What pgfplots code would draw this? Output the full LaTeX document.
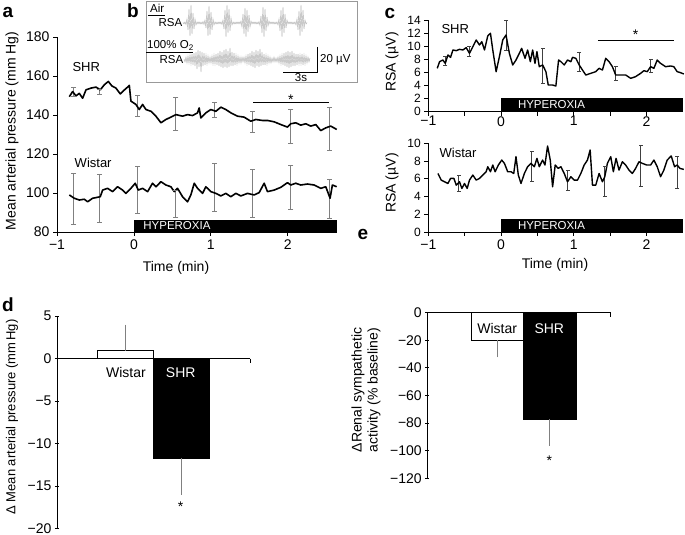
\documentclass[border=0pt]{standalone}
\usepackage{fontspec}
\setmainfont{Liberation Sans}
\usepackage{pgfplots}
\usepackage{pgfplotstable}
\pgfplotsset{compat=1.18}

\newcommand{\fs}{\fontsize{14}{16}\selectfont}
\newcommand{\fss}{\fontsize{12}{14}\selectfont}
\newcommand{\fsi}{\fontsize{11.5}{13}\selectfont}
\newcommand{\fhy}{\fontsize{11.5}{13}\selectfont}
\newcommand{\fpl}{\fontsize{19}{21}\selectfont\bfseries}

\pgfplotsset{
  panel/.style={scale only axis, anchor=south west, clip=false,
    axis lines=left, axis line style={-, line width=0.8pt},
    every inner x axis line/.append style={-},
    every outer x axis line/.append style={-},
    every outer y axis line/.append style={-},
    tick style={black, line width=0.8pt}, tick align=outside,
    major tick length=4pt, minor tick length=4pt,
    ticklabel style={font=\fs},
    /pgf/number format/assume math mode=true},
  % error bars drawn as low-high segments with caps
  ebar/.style 2 args={#1, line width=0.7pt, mark=-, mark size=#2,
    mark options={solid, line width=0.7pt, #1}, unbounded coords=jump},
}

% panel a: mean arterial pressure (mm Hg) vs time (min)
\pgfplotstableread{
x y
-0.840 149.4
-0.797 152.0
-0.753 149.8
-0.710 151.1
-0.667 148.6
-0.623 152.9
-0.558 153.8
-0.493 154.3
-0.437 152.9
-0.385 155.5
-0.333 157.2
-0.286 154.9
-0.234 153.8
-0.177 150.8
-0.134 152.5
-0.082 154.3
-0.060 155.2
-0.039 147.1
0.026 145.4
0.069 142.8
0.113 145.4
0.156 142.8
0.221 141.9
0.286 139.4
0.351 136.0
0.416 137.7
0.481 138.9
0.546 140.2
0.632 139.4
0.697 140.2
0.762 139.7
0.827 141.1
0.848 143.6
0.870 138.5
0.935 141.1
1.000 142.8
1.065 141.9
1.130 144.0
1.195 142.8
1.260 141.1
1.346 139.4
1.433 138.9
1.519 136.8
1.584 137.7
1.671 137.2
1.736 137.2
1.823 136.5
1.909 135.1
1.996 133.8
2.039 135.5
2.104 136.0
2.169 134.8
2.234 135.5
2.299 134.3
2.364 135.1
2.429 132.0
2.494 133.4
2.558 134.3
2.636 132.6
}\shra

\pgfplotstableread{
x y
-0.840 99.0
-0.775 97.3
-0.710 96.4
-0.645 96.8
-0.602 95.5
-0.537 97.3
-0.472 97.8
-0.437 98.1
-0.407 101.5
-0.342 102.4
-0.277 100.7
-0.212 103.2
-0.147 101.5
-0.104 99.8
-0.039 102.4
0.017 105.0
0.056 101.5
0.113 102.4
0.178 100.7
0.242 105.0
0.286 103.2
0.351 105.8
0.416 104.1
0.481 103.2
0.524 100.7
0.567 102.4
0.632 98.1
0.697 95.5
0.740 99.0
0.784 105.0
0.827 102.4
0.892 99.8
0.935 103.2
1.000 100.7
1.065 99.8
1.130 98.5
1.195 99.8
1.260 98.1
1.325 99.8
1.390 98.5
1.476 99.8
1.563 99.0
1.628 100.2
1.693 105.0
1.736 100.7
1.823 101.5
1.909 102.9
1.996 105.3
2.039 104.1
2.104 105.0
2.169 104.1
2.255 104.6
2.342 104.1
2.429 102.4
2.494 103.2
2.550 97.3
2.580 104.1
2.636 103.2
}\wisa

% panel c: RSA (uV) vs time (min)
\pgfplotstableread{
x y
-0.877 6.62
-0.845 7.64
-0.799 7.89
-0.767 7.38
-0.730 8.66
-0.694 8.30
-0.662 9.42
-0.616 9.32
-0.571 9.52
-0.525 9.42
-0.479 9.78
-0.434 8.91
-0.388 9.93
-0.342 10.95
-0.297 10.18
-0.265 10.69
-0.228 9.42
-0.183 11.56
-0.146 11.97
-0.114 9.42
-0.068 6.11
-0.023 8.40
0.023 10.95
0.068 11.71
0.114 8.91
0.160 7.13
0.205 7.89
0.251 8.91
0.283 9.67
0.329 8.15
0.365 9.42
0.402 7.64
0.434 9.42
0.466 7.38
0.493 9.16
0.525 6.87
0.571 7.13
0.616 6.11
0.648 4.07
0.708 4.07
0.753 3.92
0.790 7.89
0.822 7.64
0.868 7.13
0.913 7.89
0.959 7.64
0.982 8.30
1.027 8.15
1.073 7.13
1.119 6.36
1.164 5.60
1.233 5.86
1.301 6.11
1.347 6.62
1.393 6.36
1.438 8.15
1.484 7.64
1.530 6.87
1.575 5.60
1.644 5.60
1.712 5.60
1.781 5.09
1.849 5.35
1.918 5.86
1.963 6.26
2.009 6.11
2.055 6.87
2.100 6.62
2.146 7.89
2.192 7.38
2.260 6.87
2.329 6.98
2.374 6.87
2.420 6.11
2.466 5.96
2.511 5.75
}\shrc

\pgfplotstableread{
x y
-0.868 6.60
-0.822 5.85
-0.777 5.66
-0.731 5.47
-0.694 6.04
-0.648 6.04
-0.616 5.28
-0.571 5.66
-0.539 4.91
-0.502 5.47
-0.466 4.91
-0.434 5.85
-0.388 6.42
-0.342 5.85
-0.297 6.04
-0.251 6.42
-0.205 6.79
-0.183 7.36
-0.146 6.79
-0.114 7.55
-0.082 6.79
-0.037 7.55
0.009 8.11
0.046 7.74
0.091 6.79
0.137 6.79
0.174 6.60
0.205 8.49
0.237 6.42
0.274 5.47
0.320 6.60
0.365 7.36
0.411 7.74
0.457 7.36
0.493 8.30
0.525 7.36
0.571 8.11
0.603 7.55
0.639 9.70
0.676 8.11
0.708 5.09
0.744 7.55
0.785 7.17
0.822 7.36
0.868 6.60
0.913 5.66
0.959 6.23
1.005 5.85
1.050 5.85
1.096 6.60
1.142 7.55
1.187 8.11
1.224 9.25
1.256 5.28
1.301 5.28
1.347 6.60
1.393 5.66
1.425 6.23
1.461 7.74
1.507 8.49
1.543 6.79
1.580 8.30
1.621 6.98
1.667 7.92
1.712 7.55
1.758 6.98
1.804 6.60
1.849 7.17
1.895 7.92
1.941 7.74
2.000 7.55
2.055 7.55
2.100 8.11
2.146 7.36
2.192 6.23
2.237 6.98
2.283 8.11
2.338 8.57
2.384 7.36
2.420 7.55
2.457 7.17
2.511 7.06
}\wisc

% panel b: example RSA traces (x in px, deflection from baseline)
\pgfplotstableread{
x o
183 0.5
184 -0.8
185 1
186 -1.5
187 4
188 -7
189 14
190 -13
191 18
192 -11
193 10
194 -6
195 4
196 -2
197 1
198 -1
199 1
200 -1
201 0.8
202 -1
203 1.5
204 -1.5
205 3
206 -5
207 12
208 -13
209 17
210 -12
211 11
212 -7
213 4
214 -2
215 1
216 -1
217 0.8
218 -1
219 1
220 -0.8
221 1
222 -1.5
223 3
224 -6
225 13
226 -14
227 18
228 -10
229 14
230 -8
231 5
232 -2
233 1
234 -1
235 0.8
236 -1
237 1
238 -0.8
239 1
240 -1
241 2
242 -4
243 9
244 -11
245 15
246 -14
247 13
248 -9
249 8
250 -4
251 2
252 -1
253 1
254 -0.8
255 1
256 -1
257 0.8
258 -1
259 1.5
260 -2.5
261 7
262 -10
263 16
264 -14
265 14
266 -8
267 6
268 -3
269 2
270 -1
271 1
272 -0.8
273 1
274 -1
275 0.8
276 -1
277 1
278 -2
279 4
280 -8
281 13
282 -14
283 16
284 -10
285 9
286 -5
287 3
288 -1
289 1
290 -0.8
291 1
292 -1
293 0.8
294 -1
295 1
296 -2
297 4
298 -7
299 12
300 -13
301 18
302 -9
303 13
304 -6
305 3
306 -1
307 0.5
}\air

\pgfplotstableread{
x o
184 1
185 -2
186 3
187 -3
188 4
189 -3
190 5
191 -4
192 6
193 -5
194 7
195 -6
196 8
197 -9
198 10
199 -7
200 9
201 -12
202 8
203 -6
204 7
205 -5
206 5
207 -4
208 4
209 -3
210 3
211 -3
212 4
213 -4
214 5
215 -4
216 6
217 -5
218 7
219 -6
220 9
221 -7
222 8
223 -8
224 10
225 -7
226 11
227 -8
228 9
229 -7
230 12
231 -6
232 8
233 -6
234 7
235 -5
236 5
237 -4
238 4
239 -3
240 3
241 -3
242 3
243 -2
244 3
245 -3
246 4
247 -4
248 6
249 -5
250 7
251 -6
252 9
253 -7
254 8
255 -8
256 10
257 -6
258 9
259 -7
260 11
261 -6
262 8
263 -5
264 6
265 -5
266 5
267 -4
268 4
269 -3
270 3
271 -3
272 2
273 -2
274 3
275 -2
276 2
277 -2
278 3
279 -3
280 4
281 -4
282 5
283 -5
284 7
285 -6
286 8
287 -7
288 9
289 -8
290 8
291 -7
292 9
293 -6
294 7
295 -6
296 6
297 -5
298 6
299 -4
300 5
301 -4
302 6
303 -5
304 5
305 -4
306 4
307 -3
308 3
309 -2
310 2
}\oxy

\begin{document}
\begin{tikzpicture}[x=1pt,y=1pt]
\useasboundingbox (0pt,0pt) rectangle (685pt,535pt);

% ---------------- panel a
\begin{axis}[panel, at={(57pt,303pt)}, width=280pt, height=195pt,
  xmin=-1, xmax=2.64, ymin=80, ymax=180,
  xtick={-1,0,1,2}, xticklabels={−1,0,1,2}, ytick={80,100,...,180}]
\fill (axis cs:0,80) rectangle (axis cs:2.64,86.2);
\node[white, anchor=west, font=\fhy, inner sep=0pt] at (axis cs:0.12,83.1) {HYPEROXIA};
\addplot[ebar={gray}{2.5pt}] coordinates {
  (-0.784,149.4) (-0.784,154.2) (-0.784,nan)
  (-0.450,150.6) (-0.450,153.2) (-0.450,nan)
  (0.048,139.1) (0.048,149.9) (0.048,nan)
  (0.545,132.0) (0.545,149.0) (0.545,nan)
  (1.043,138.9) (1.043,146.5) (1.043,nan)
  (1.541,131.3) (1.541,141.9) (1.541,nan)
  (2.039,125.6) (2.039,143.0) (2.039,nan)
  (2.537,121.9) (2.537,143.7)
};
\addplot[ebar={gray}{2.5pt}] coordinates {
  (-0.784,84.1) (-0.784,110.1) (-0.784,nan)
  (-0.450,85.0) (-0.450,109.6) (-0.450,nan)
  (0.048,89.6) (0.048,113.6) (0.048,nan)
  (0.545,87.5) (0.545,101.5) (0.545,nan)
  (1.043,90.4) (1.043,115.2) (1.043,nan)
  (1.541,87.5) (1.541,112.1) (1.541,nan)
  (2.039,91.6) (2.039,114.4) (2.039,nan)
  (2.537,87.0) (2.537,106.8)
};
\addplot[black, line width=1.6pt, line join=round] table {\shra};
\addplot[black, line width=1.6pt, line join=round] table {\wisa};
\addplot[black, line width=1pt] coordinates {(1.55,146.3) (2.54,146.3)};
\node[font=\fs, yshift=-3pt] at (axis cs:2.04,149.4) {*};
\node[font=\fontsize{13}{15}\selectfont] at (axis cs:-0.62,164.5) {SHR};
\node[font=\fontsize{13}{15}\selectfont] at (axis cs:-0.53,115.4) {Wistar};
\end{axis}
\node[rotate=90, font=\fs] at (12pt,404pt) {Mean arterial pressure (mm Hg)};
\node[font=\fs] at (176pt,267pt) {Time (min)};
\node[font=\fpl] at (8pt,523pt) {a};

% ---------------- panel b
\begin{axis}[scale only axis, anchor=south west, at={(146pt,453pt)}, width=211pt, height=82pt,
  xmin=146, xmax=357, ymin=-82, ymax=0, hide axis, clip=false]
\draw[gray!80, line width=0.8pt] (axis cs:146,-1) rectangle (axis cs:357,-82);
\addplot[gray!65, line width=0.45pt] table[x index=0, y expr=\thisrowno{1}-23] {\air};
\addplot[gray!65, line width=0.45pt] table[x index=0, y expr=\thisrowno{1}-60] {\oxy};
\node[font=\fsi, anchor=base west, inner sep=0pt] at (axis cs:150,-13) {Air};
\draw[line width=0.7pt] (axis cs:148,-15.5) -- (axis cs:165,-15.5);
\node[font=\fsi, anchor=base east, inner sep=0pt] at (axis cs:182.5,-27) {RSA};
\node[font=\fsi, anchor=base west, inner sep=0pt] at (axis cs:147,-49) {100\% O\textsubscript{2}};
\draw[line width=0.7pt] (axis cs:146,-52) -- (axis cs:193,-52);
\node[font=\fsi, anchor=base east, inner sep=0pt] at (axis cs:183.5,-64) {RSA};
\draw[line width=0.8pt] (axis cs:317,-47) -- (axis cs:317,-72) -- (axis cs:283,-72);
\node[font=\fsi, anchor=west, inner sep=0pt] at (axis cs:320,-60) {20 µV};
\node[font=\fsi, anchor=base, inner sep=0pt] at (axis cs:301,-81.5) {3s};
\end{axis}
\node[font=\fpl] at (133pt,524pt) {b};

% ---------------- panel c, top (SHR)
\begin{axis}[panel, at={(428.3pt,423.3pt)}, width=254.7pt, height=91.7pt,
  xmin=-1, xmax=2.5, ymin=0, ymax=14, ytick={0,2,...,14},
  xtick={-1,0,1,2}, xticklabels={−1,0,1,2}, minor xtick={-0.5,0.5,1.5},
  yticklabel style={font=\fss}, xticklabel style={yshift=3pt}]
\fill (axis cs:0,0) rectangle (axis cs:2.5,2.14);
\node[white, anchor=west, font=\fhy, inner sep=0pt] at (axis cs:0.23,1.07) {HYPEROXIA};
\addplot[ebar={black!75}{2pt}] coordinates {
  (-0.767,7.10) (-0.767,8.50) (-0.767,nan)
  (-0.434,8.40) (-0.434,9.90) (-0.434,nan)
  (0.068,9.40) (0.068,14.00) (0.068,nan)
  (0.571,4.33) (0.571,9.67) (0.571,nan)
  (1.073,6.10) (1.073,9.00) (1.073,nan)
  (1.575,4.80) (1.575,6.90) (1.575,nan)
  (2.055,5.96) (2.055,8.00)
};
\addplot[black, line width=1.4pt, line join=round] table {\shrc};
\addplot[black, line width=1pt] coordinates {(1.33,10.85) (2.37,10.85)};
\node[font=\fs, yshift=-3pt] at (axis cs:1.85,12.2) {*};
\node[font=\fontsize{13}{15}\selectfont] at (axis cs:-0.63,12.6) {SHR};
\end{axis}
\node[rotate=90, font=\fs] at (392pt,473pt) {RSA (µV)};
\node[font=\fpl] at (390pt,522pt) {c};

% ---------------- panel c, bottom (Wistar)
\begin{axis}[panel, at={(428.3pt,303pt)}, width=254.7pt, height=88.7pt,
  xmin=-1, xmax=2.5, ymin=0, ymax=10, ytick={0,2,...,10},
  xtick={-1,0,1,2}, xticklabels={−1,0,1,2}, minor xtick={-0.5,0.5,1.5},
  yticklabel style={font=\fss}]
\fill (axis cs:0,0) rectangle (axis cs:2.5,1.43);
\node[white, anchor=west, font=\fhy, inner sep=0pt] at (axis cs:0.23,0.75) {HYPEROXIA};
\addplot[ebar={black!75}{2pt}] coordinates {
  (-0.585,4.53) (-0.585,6.33) (-0.585,nan)
  (0.420,5.66) (0.420,9.06) (0.420,nan)
  (0.913,4.64) (0.913,6.98) (0.913,nan)
  (1.425,4.04) (1.425,7.36) (1.425,nan)
  (1.918,5.09) (1.918,9.81) (1.918,nan)
  (2.420,4.91) (2.420,8.57)
};
\addplot[black, line width=1.4pt, line join=round] table {\wisc};
\node[font=\fontsize{13}{15}\selectfont] at (axis cs:-0.59,8.87) {Wistar};
\end{axis}
\node[rotate=90, font=\fs] at (392pt,352pt) {RSA (µV)};
\node[font=\fs] at (555pt,270pt) {Time (min)};

% ---------------- panel d
\begin{axis}[panel, at={(57pt,6.3pt)}, width=193pt, height=212.7pt,
  xmin=0, xmax=193, ymin=-20, ymax=5,
  axis x line=middle, axis y line=left, xtick=\empty,
  axis line style={-, line width=0.8pt},
  ytick={-20,-15,...,5}, yticklabels={−20,−15,−10,−5,0,5}]
\addplot[ybar, bar width=55.5pt, fill=white, draw=black, line width=0.8pt,
  error bars/.cd, y dir=plus, y explicit,
  error bar style={draw=gray, line width=0.7pt},
  error mark options={draw=gray, line width=0.7pt, mark size=1.5pt}]
  coordinates {(68.5,0.92) +- (0,2.90)};
\addplot[ybar, bar width=55.5pt, fill=black, draw=black, line width=0.8pt,
  error bars/.cd, y dir=minus, y explicit,
  error bar style={draw=gray, line width=0.7pt},
  error mark options={draw=gray, line width=0.7pt, mark size=1.5pt}]
  coordinates {(124.5,-11.73) +- (0,4.11)};
\draw[line width=0.8pt] (axis cs:193,0) -- ([yshift=-4pt]axis cs:193,0);
\node[font=\fs] at (axis cs:69,-1.64) {Wistar};
\node[font=\fs, white] at (axis cs:123.7,-1.64) {SHR};
\node[font=\fs, yshift=-3pt] at (axis cs:123.7,-17.1) {*};
\end{axis}
\node[rotate=90, font=\fontsize{13}{15}\selectfont] at (12pt,118pt) {Δ Mean arterial pressure (mm\,Hg)};
\node[font=\fpl] at (8pt,230pt) {d};

% ---------------- panel e
\begin{axis}[panel, at={(427.3pt,56.7pt)}, width=183.3pt, height=165.7pt,
  xmin=0, xmax=183.3, ymin=-120, ymax=0,
  axis x line=middle, axis y line=left, xtick=\empty,
  axis line style={-, line width=0.8pt},
  ytick={-120,-100,...,0}, yticklabels={−120,−100,−80,−60,−40,−20,0}]
\addplot[ybar, bar width=52.3pt, fill=white, draw=black, line width=0.8pt,
  error bars/.cd, y dir=minus, y explicit,
  error bar style={draw=gray, line width=0.7pt},
  error mark options={draw=gray, line width=0.7pt, mark size=1.5pt}]
  coordinates {(69.9,-19.8) +- (0,11.6)};
\addplot[ybar, bar width=52.7pt, fill=black, draw=black, line width=0.8pt,
  error bars/.cd, y dir=minus, y explicit,
  error bar style={draw=gray, line width=0.7pt},
  error mark options={draw=gray, line width=0.7pt, mark size=1.5pt}]
  coordinates {(122.3,-77.0) +- (0,18.3)};
\draw[line width=0.8pt] (axis cs:183.3,0) -- ([yshift=-4pt]axis cs:183.3,0);
\node[font=\fs] at (axis cs:69.9,-11.7) {Wistar};
\node[font=\fs, white] at (axis cs:122,-11.7) {SHR};
\node[font=\fs, yshift=-3pt] at (axis cs:122,-105.4) {*};
\end{axis}
\node[rotate=90, font=\fs, align=center] at (366pt,145pt) {ΔRenal sympathetic\\activity (\% baseline)};
\node[font=\fpl] at (363pt,301pt) {e};

\end{tikzpicture}
\end{document}
